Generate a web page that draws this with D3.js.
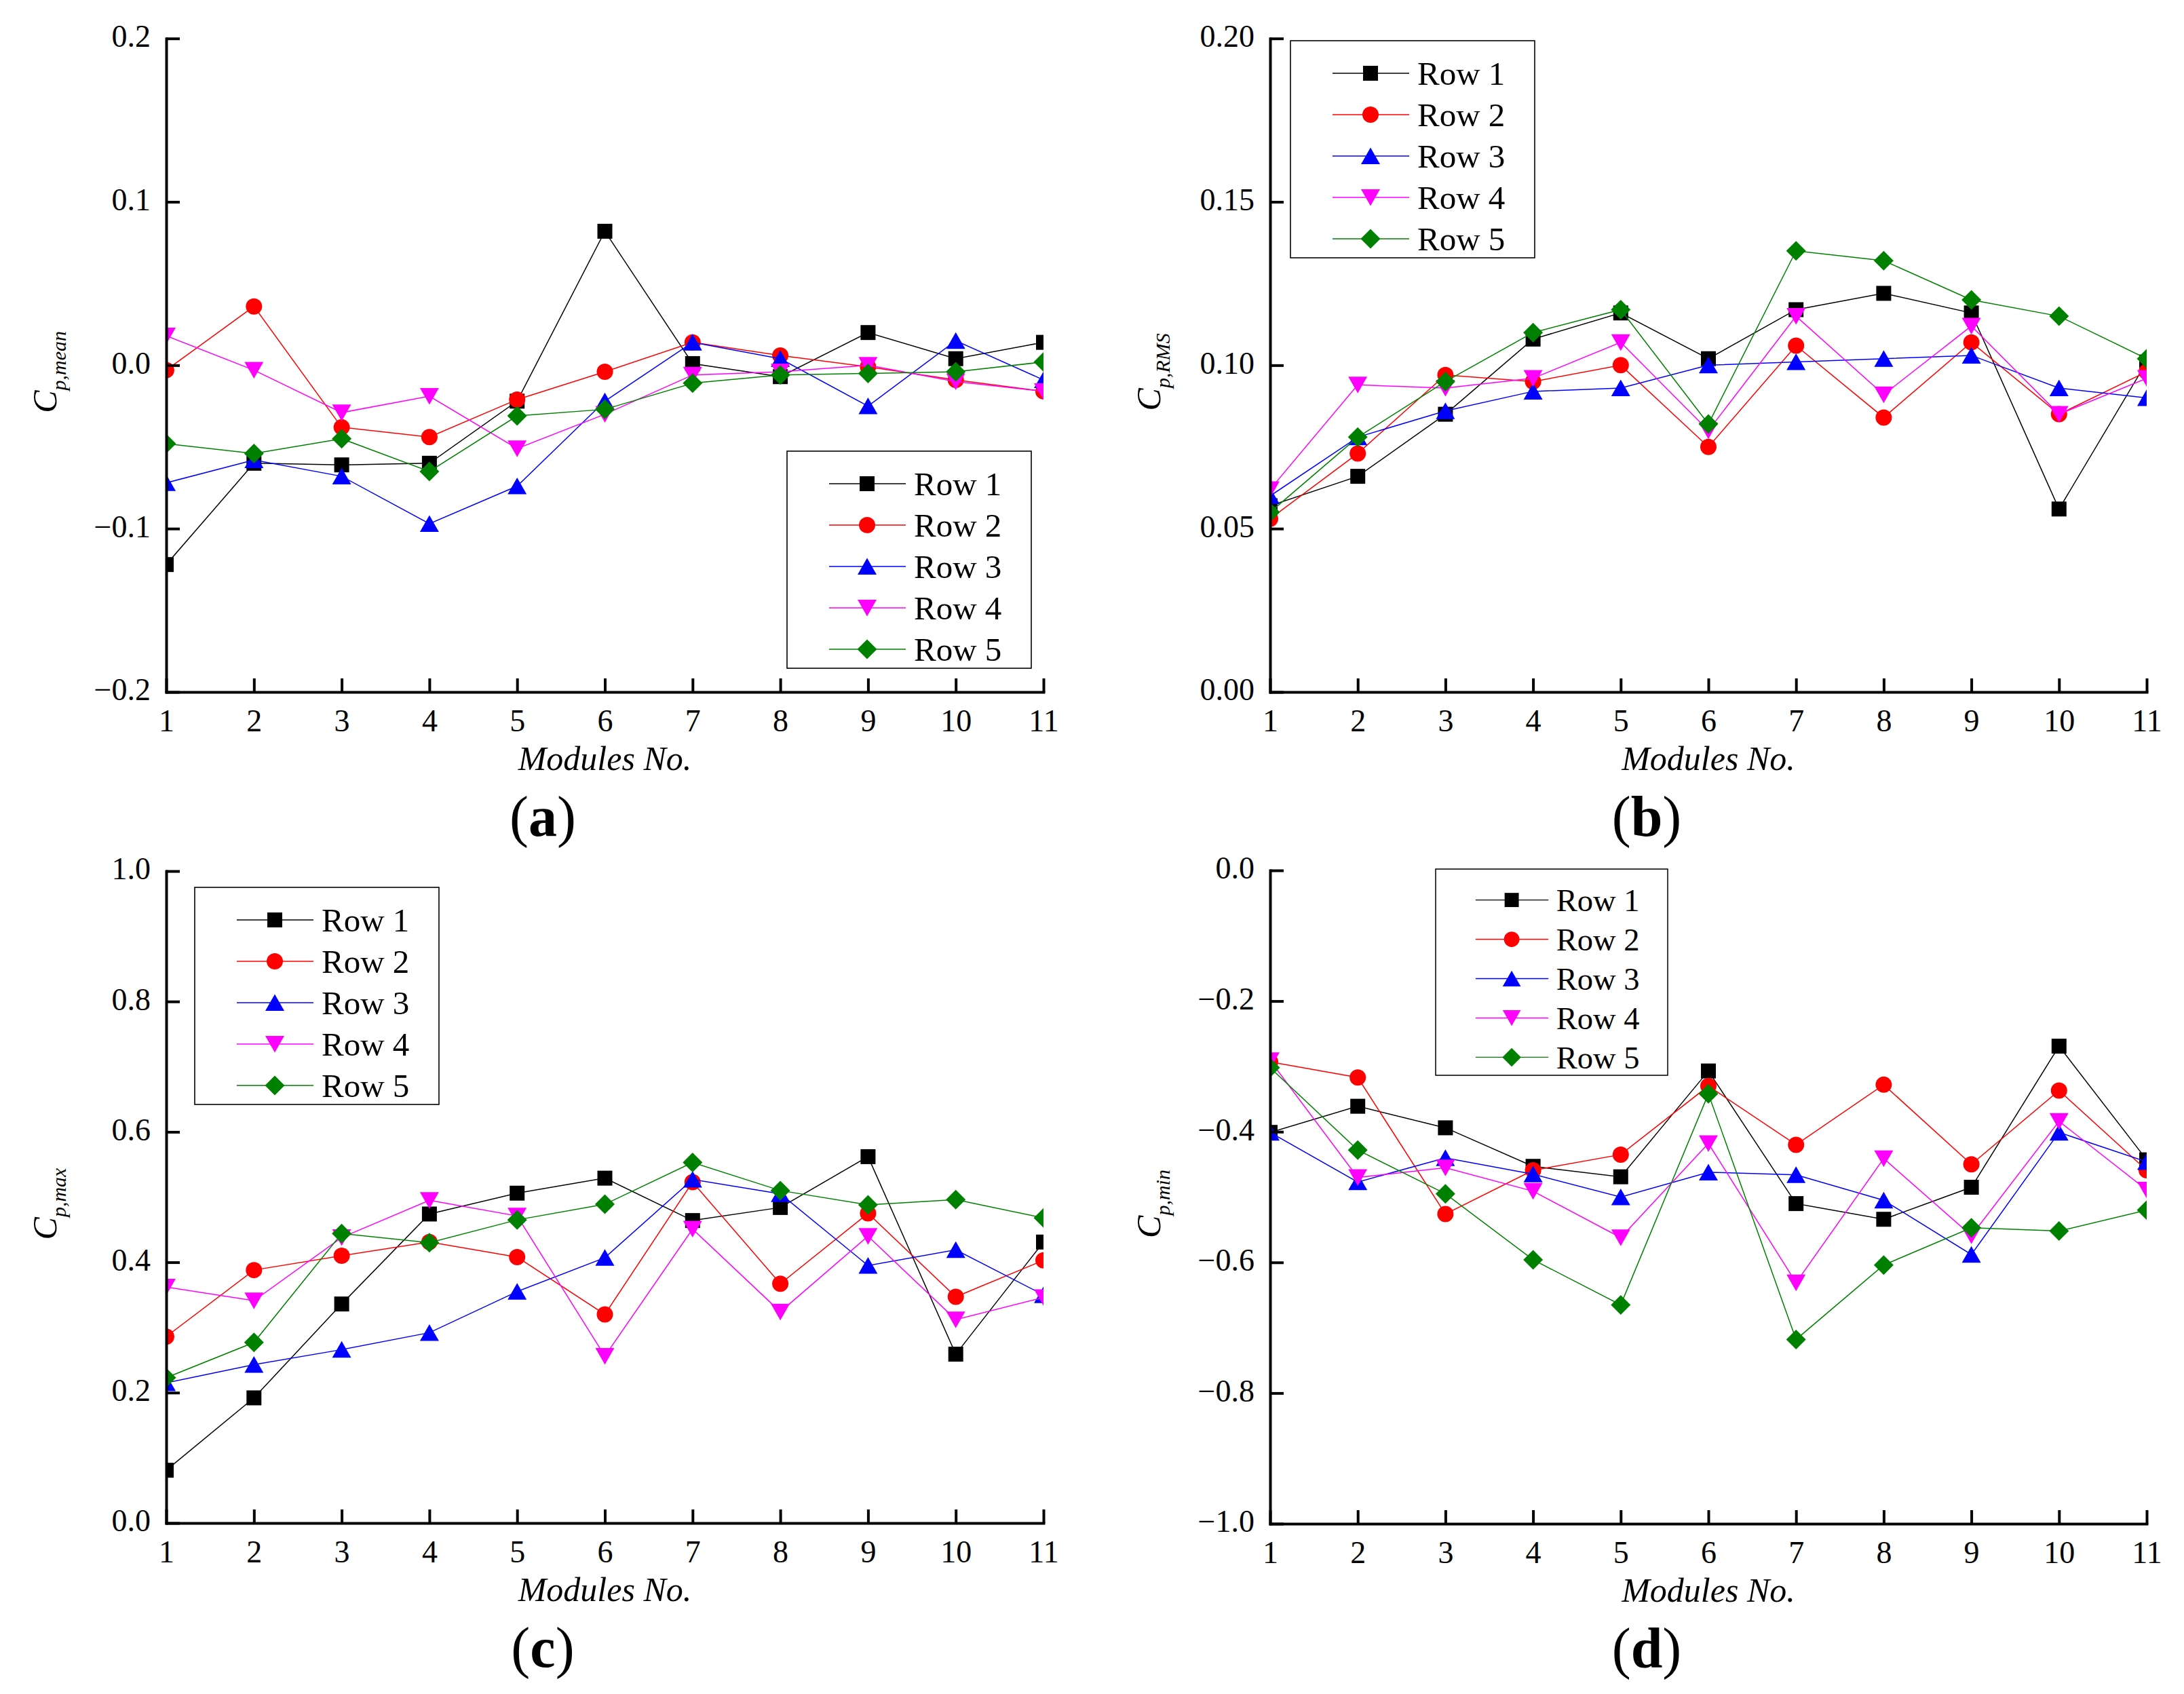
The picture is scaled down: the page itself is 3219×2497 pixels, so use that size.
<!DOCTYPE html>
<html>
<head>
<meta charset="utf-8">
<script src="https://cdn.jsdelivr.net/npm/d3@7"></script>
<style>
body { margin: 0; background: #fff; }
text { font-family: "Liberation Serif", "Times New Roman", serif; }
</style>
</head>
<body>
<svg id="chart" width="3219" height="2497"></svg>
<script>

/* Data */

var modules  = [1, 2, 3, 4, 5, 6, 7, 8, 9, 10, 11];
var rowNames = ["Row 1", "Row 2", "Row 3", "Row 4", "Row 5"];

var cpMean = [
	[-0.122, -0.060, -0.061, -0.060, -0.022,  0.082,  0.001, -0.007,  0.020,  0.004,  0.014],
	[-0.003,  0.036, -0.038, -0.044, -0.021, -0.004,  0.014,  0.006, -0.001, -0.009, -0.016],
	[-0.072, -0.058, -0.068, -0.097, -0.074, -0.022,  0.014,  0.004, -0.025,  0.015, -0.009],
	[ 0.018, -0.003, -0.029, -0.019, -0.051, -0.030, -0.006, -0.004,  0.000, -0.010, -0.016],
	[-0.048, -0.054, -0.045, -0.065, -0.031, -0.027, -0.011, -0.006, -0.005, -0.004,  0.002]
];

var cpRms = [
	[0.057, 0.066, 0.085, 0.108, 0.116, 0.102, 0.117, 0.122, 0.116, 0.056, 0.101],
	[0.053, 0.073, 0.097, 0.095, 0.100, 0.075, 0.106, 0.084, 0.107, 0.085, 0.098],
	[0.060, 0.078, 0.086, 0.092, 0.093, 0.100, 0.101, 0.102, 0.103, 0.093, 0.090],
	[0.062, 0.094, 0.093, 0.096, 0.107, 0.080, 0.115, 0.091, 0.112, 0.085, 0.096],
	[0.055, 0.078, 0.095, 0.110, 0.117, 0.082, 0.135, 0.132, 0.120, 0.115, 0.102]
];

var cpMax = [
	[0.081, 0.192, 0.336, 0.474, 0.506, 0.529, 0.464, 0.484, 0.562, 0.259, 0.431],
	[0.286, 0.388, 0.410, 0.431, 0.408, 0.320, 0.523, 0.367, 0.475, 0.347, 0.403],
	[0.215, 0.243, 0.266, 0.292, 0.355, 0.407, 0.527, 0.505, 0.395, 0.419, 0.350],
	[0.362, 0.341, 0.438, 0.495, 0.471, 0.256, 0.451, 0.324, 0.440, 0.312, 0.346],
	[0.223, 0.277, 0.444, 0.430, 0.465, 0.489, 0.553, 0.510, 0.488, 0.496, 0.468]
];

var cpMin = [
	[-0.401, -0.361, -0.394, -0.453, -0.469, -0.307, -0.510, -0.534, -0.485, -0.269, -0.443],
	[-0.293, -0.317, -0.526, -0.459, -0.435, -0.330, -0.420, -0.328, -0.450, -0.337, -0.459],
	[-0.401, -0.477, -0.440, -0.465, -0.500, -0.462, -0.466, -0.505, -0.588, -0.401, -0.446],
	[-0.291, -0.470, -0.455, -0.491, -0.562, -0.418, -0.631, -0.441, -0.559, -0.384, -0.489],
	[-0.302, -0.428, -0.495, -0.596, -0.665, -0.342, -0.718, -0.604, -0.547, -0.552, -0.520]
];

/* Tick values */

var meanTicks = [-0.2, -0.1, 0.0, 0.1, 0.2];
var rmsTicks  = [0.00, 0.05, 0.10, 0.15, 0.20];
var maxTicks  = [0.0, 0.2, 0.4, 0.6, 0.8, 1.0];
var minTicks  = [-1.0, -0.8, -0.6, -0.4, -0.2, 0.0];


/* Styles */

var ROW_COLORS = ["#000000", "#ff0000", "#0000ff", "#ff00ff", "#008000"];

var TICK_FONT   = 46,
    TITLE_FONT  = 50,
    LEGEND_FONT = 49,
    LABEL_FONT  = 84;

var TICK_LENGTH  = 20,
    AXIS_WIDTH   = 4,
    LINE_WIDTH   = 1.5;

/* custom marker shapes, Origin style */
var squareType = {draw: function(c) { c.moveTo(-11, -11); c.lineTo(11, -11); c.lineTo(11, 11); c.lineTo(-11, 11); c.closePath(); }};
var circleType = {draw: function(c) { c.moveTo(12, 0); c.arc(0, 0, 12, 0, 2 * Math.PI); }};
var upType     = {draw: function(c) { c.moveTo(0, -12.5); c.lineTo(14, 12); c.lineTo(-14, 12); c.closePath(); }};
var downType   = {draw: function(c) { c.moveTo(0, 12.5); c.lineTo(14, -12); c.lineTo(-14, -12); c.closePath(); }};
var diamType   = {draw: function(c) { c.moveTo(0, -14.5); c.lineTo(14.5, 0); c.lineTo(0, 14.5); c.lineTo(-14.5, 0); c.closePath(); }};

var ROW_SYMBOLS = [squareType, circleType, upType, downType, diamType];


/* Panels (positions in px) */

var panels = [
	{ id: "a", values: cpMean, ticks: meanTicks, fmt: ".1f", sub: "p,mean",
	  left: 245,  right: 1538, top: 56.7, bottom: 1020,
	  legend: { x: 1160, y: 665,  s: 1 } },
	{ id: "b", values: cpRms,  ticks: rmsTicks,  fmt: ".2f", sub: "p,RMS",
	  left: 1872, right: 3164, top: 56.7, bottom: 1020,
	  legend: { x: 1902, y: 60,   s: 1 } },
	{ id: "c", values: cpMax,  ticks: maxTicks,  fmt: ".1f", sub: "p,max",
	  left: 245,  right: 1538, top: 1284, bottom: 2245,
	  legend: { x: 287,  y: 1308, s: 1 } },
	{ id: "d", values: cpMin,  ticks: minTicks,  fmt: ".1f", sub: "p,min",
	  left: 1872, right: 3164, top: 1283, bottom: 2246,
	  legend: { x: 2116, y: 1281, s: 0.95 } }
];

var svg = d3.select("#chart");

svg.append("rect")
	.attr("width", 3219)
	.attr("height", 2497)
	.attr("fill", "#fff");

function fmtTick(f) {
	var base = d3.format(f);
	return function(d) {
		var s = base(Math.abs(d));
		return d < 0 ? "\u2212" + s : s;
	};
}

function drawPanel(p) {
	var x = d3.scaleLinear()
		.domain([modules[0], modules[modules.length - 1]])
		.range([p.left, p.right]);

	var y = d3.scaleLinear()
		.domain(d3.extent(p.ticks))
		.range([p.bottom, p.top]);

	var g = svg.append("g").attr("class", "panel-" + p.id);

	g.append("clipPath")
		.attr("id", "clip-" + p.id)
		.append("rect")
		.attr("x", p.left)
		.attr("y", p.top)
		.attr("width", p.right - p.left)
		.attr("height", p.bottom - p.top);

	var plot = g.append("g").attr("clip-path", "url(#clip-" + p.id + ")");

	var line = d3.line()
		.x(function(d, i) { return x(modules[i]); })
		.y(function(d) { return y(d); });

	var series = plot.selectAll("g.series")
		.data(p.values)
		.enter().append("g")
		.attr("class", "series");

	series.append("path")
		.attr("d", line)
		.attr("fill", "none")
		.attr("stroke", function(d, i) { return ROW_COLORS[i]; })
		.attr("stroke-width", LINE_WIDTH);

	series.each(function(row, r) {
		d3.select(this).selectAll("path.mark")
			.data(row)
			.enter().append("path")
			.attr("class", "mark")
			.attr("d", d3.symbol().type(ROW_SYMBOLS[r]))
			.attr("transform", function(d, i) { return "translate(" + x(modules[i]) + "," + y(d) + ")"; })
			.attr("fill", ROW_COLORS[r]);
	});

	/* axes */
	var xAxis = g.append("g")
		.attr("transform", "translate(0," + p.bottom + ")")
		.call(d3.axisBottom(x)
			.tickValues(modules)
			.tickFormat(d3.format("d"))
			.tickSizeInner(-TICK_LENGTH)
			.tickSizeOuter(0)
			.tickPadding(25));

	var yAxis = g.append("g")
		.attr("transform", "translate(" + p.left + ",0)")
		.call(d3.axisLeft(y)
			.tickValues(p.ticks)
			.tickFormat(fmtTick(p.fmt))
			.tickSizeInner(-TICK_LENGTH)
			.tickSizeOuter(0)
			.tickPadding(23));

	[xAxis, yAxis].forEach(function(a) {
		a.attr("font-family", null).attr("font-size", null);
		a.select(".domain").attr("stroke", "#000").attr("stroke-width", AXIS_WIDTH).attr("stroke-linecap", "square");
		a.selectAll(".tick line").attr("stroke", "#000").attr("stroke-width", AXIS_WIDTH);
		a.selectAll(".tick text").attr("fill", "#000").style("font-size", TICK_FONT + "px");
	});
	yAxis.selectAll(".tick text").attr("dy", "0.26em");

	/* axis titles */
	g.append("text")
		.attr("x", (p.left + p.right) / 2)
		.attr("y", p.bottom + 115)
		.attr("text-anchor", "middle")
		.style("font-size", TITLE_FONT + "px")
		.style("font-style", "italic")
		.text("Modules No.");

	var yl = g.append("text")
		.attr("transform", "translate(" + (p.left - 162) + "," + ((p.top + p.bottom) / 2 + 10) + ") rotate(-90)")
		.attr("text-anchor", "middle")
		.style("font-style", "italic");
	yl.append("tspan").style("font-size", TITLE_FONT + "px").text("C");
	yl.append("tspan").attr("dy", 14).style("font-size", "30px").text(p.sub);

	/* panel label */
	var pl = g.append("text")
		.attr("x", p.left + 555)
		.attr("y", p.bottom + 212)
		.attr("text-anchor", "middle")
		.style("font-size", LABEL_FONT + "px");
	pl.append("tspan").text("(");
	pl.append("tspan").style("font-weight", "bold").text(p.id);
	pl.append("tspan").text(")");

	/* legend */
	var lg = g.append("g")
		.attr("transform", "translate(" + p.legend.x + "," + p.legend.y + ") scale(" + p.legend.s + ")");

	lg.append("rect")
		.attr("width", 360)
		.attr("height", 320)
		.attr("fill", "#fff")
		.attr("stroke", "#000")
		.attr("stroke-width", 1.6);

	var item = lg.selectAll("g.item")
		.data(rowNames)
		.enter().append("g")
		.attr("class", "item")
		.attr("transform", function(d, i) { return "translate(0," + (48 + 61 * i) + ")"; });

	item.append("line")
		.attr("x1", 62)
		.attr("x2", 175)
		.attr("stroke", function(d, i) { return ROW_COLORS[i]; })
		.attr("stroke-width", LINE_WIDTH);

	item.append("path")
		.attr("d", function(d, i) { return d3.symbol().type(ROW_SYMBOLS[i])(); })
		.attr("transform", "translate(118,0)")
		.attr("fill", function(d, i) { return ROW_COLORS[i]; });

	item.append("text")
		.attr("x", 187)
		.attr("y", 17)
		.style("font-size", LEGEND_FONT + "px")
		.text(String);
}

panels.forEach(drawPanel);

</script>
</body>
</html>
